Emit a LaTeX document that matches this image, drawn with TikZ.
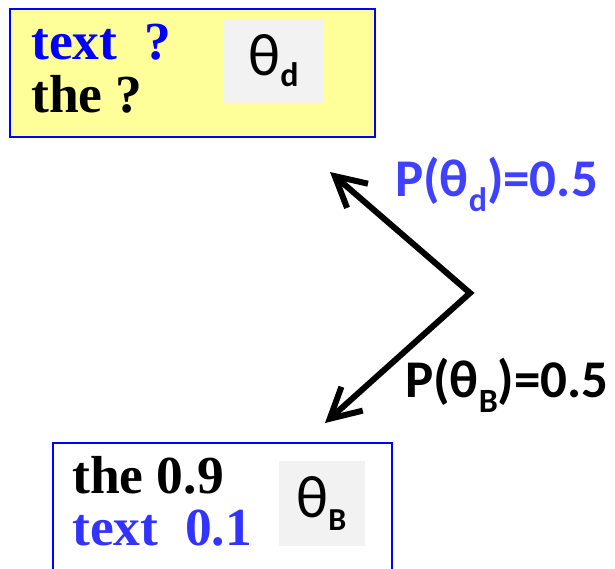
\documentclass[tikz,border=0pt]{standalone}
\usepackage{fontspec}
\setmainfont{Liberation Serif}
\newfontfamily\calibri{Carlito}
\usetikzlibrary{arrows.meta}
\definecolor{boxblue}{RGB}{0,0,255}
\definecolor{textblue}{RGB}{51,51,255}
\definecolor{labelblue}{RGB}{64,64,255}
\definecolor{paleyellow}{RGB}{255,255,153}
\definecolor{thetagray}{RGB}{242,242,242}
\newcommand{\lowsub}[3]{\raisebox{-#1pt}{\fontsize{#2}{#2}\selectfont\bfseries #3}}
\tikzset{
  wordbox/.style={draw=boxblue,line width=2pt,inner sep=0pt},
  thetabox/.style={fill=thetagray,inner sep=0pt},
  thetaname/.style={font=\calibri\fontsize{60}{60}\selectfont,inner sep=0pt},
  words/.style={font=\fontsize{53.5}{58}\selectfont\bfseries,anchor=base west,inner sep=0pt},
  problabel/.style={font=\calibri\fontsize{53}{53}\selectfont\bfseries,anchor=base west,inner sep=0pt},
  mixarrow/.style={line width=6pt,{Straight Barb[length=30pt,width=32pt]}-{Straight Barb[length=30pt,width=32pt]}},
}
\begin{document}
\begin{tikzpicture}[x=1pt,y=-1pt]
\clip (0,0) rectangle (615,569);
% topic model theta_d
\node[wordbox,fill=paleyellow,minimum width=365pt,minimum height=128pt] (dbox) at (192.5,73) {};
\node[thetabox,minimum width=99pt,minimum height=84pt] (dgray) at (273.5,61) {};
\node[thetaname] (dtheta) at (dgray.center) {θ\lowsub{11}{34}{d}};
\node[words,text=boxblue] (dtext) at (31,60) {text\ \ ?};
\node[words] (dthe) at (31,113) {the ?};
% background model theta_B
\node[wordbox,fill=white,minimum width=339pt,minimum height=150pt] (bbox) at (222,518) {};
\node[thetabox,minimum width=86pt,minimum height=85pt] (bgray) at (321.5,503.5) {};
\node[thetaname] (btheta) at (bgray.center) {θ\lowsub{13}{32}{B}};
\node[words] (bthe) at (72,493) {the 0.9};
\node[words,text=textblue] (btext) at (72,545) {text\ \ 0.1};
% mixing arrows
\coordinate (fork) at (470,293);
\coordinate (dtip) at (330,172);
\coordinate (btip) at (325,423);
\draw[mixarrow] (dtip) -- (fork) -- (btip);
\node[problabel,text=labelblue] (dprob) at (395,197) {P(θ\lowsub{15}{34}{d})=0.5};
\node[problabel] (bprob) at (405,397) {P(θ\lowsub{15}{34}{B})=0.5};
\end{tikzpicture}
\end{document}
